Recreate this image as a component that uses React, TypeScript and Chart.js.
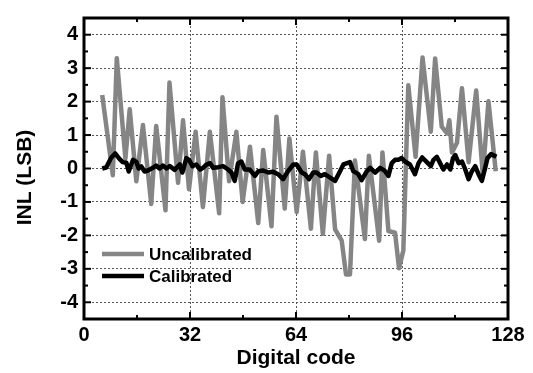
import React, { useEffect, useRef } from "react";
import { Chart, registerables } from "chart.js";

Chart.register(...registerables);

// ---- Data ----
const uncalCodes = [5.5, 8.7, 9.9, 12.5, 13.8, 15.8, 17.8, 20.3, 21.8, 24.6, 25.8, 28.4, 29.9, 31.7, 33.7, 35.9, 38.0, 40.8, 41.8, 43.8, 46.0, 47.9, 50.1, 52.6, 54.1, 56.6, 58.1, 60.6, 62.0, 64.2, 66.1, 68.5, 70.0, 72.1, 74.0, 75.8, 77.8, 79.1, 80.3, 81.8, 84.8, 86.0, 89.1, 90.1, 91.9, 93.9, 95.1, 96.4, 97.9, 100.1, 102.2, 104.7, 106.0, 108.0, 109.6, 110.3, 111.1, 112.6, 114.1, 116.1, 118.4, 120.4, 122.1, 124.3];
const uncalValues = [2.2, -0.2, 3.3, 0.3, 1.77, -0.38, 1.3, -1.06, 1.27, -1.25, 2.57, -0.43, 1.44, -0.62, 1.1, -1.15, 1.1, -1.34, 2.13, -0.38, 1.1, -1.0, 0.65, -1.63, 0.55, -1.73, 1.55, -1.2, 0.9, -1.3, 0.5, -1.8, 0.48, -1.95, 0.38, -1.82, -2.16, -3.17, -3.17, 0.24, -2.11, 0.38, -2.16, 0.48, -1.87, -1.92, -2.98, -2.45, 2.49, 0.35, 3.32, 1.1, 3.29, 1.25, 1.05, 1.44, 0.48, 0.77, 2.4, 0.19, 2.33, -0.19, 2.01, -0.08];

const calCodes = [5.5, 6.7, 8.2, 9.4, 10.7, 11.7, 12.8, 13.5, 14.8, 15.8, 16.5, 17.3, 18.3, 19.3, 20.8, 21.8, 22.8, 23.8, 24.9, 25.9, 27.4, 28.9, 29.7, 30.9, 31.7, 32.7, 33.9, 35.1, 35.9, 37.0, 38.0, 39.0, 40.5, 42.0, 43.5, 44.5, 45.5, 46.5, 47.5, 48.5, 50.0, 51.6, 52.6, 54.1, 55.6, 57.1, 58.6, 60.1, 61.6, 63.2, 64.2, 65.7, 66.7, 67.9, 69.2, 70.2, 71.5, 72.7, 74.3, 75.8, 77.3, 78.3, 80.3, 81.3, 82.8, 83.8, 85.4, 86.4, 87.9, 89.4, 90.9, 91.9, 92.9, 93.9, 94.9, 95.9, 96.9, 98.4, 99.9, 101.0, 102.1, 103.5, 104.7, 105.5, 106.5, 107.5, 108.5, 109.6, 110.6, 111.4, 112.1, 113.1, 114.1, 115.1, 116.1, 117.1, 118.1, 119.1, 120.1, 121.1, 121.8, 122.9, 124.5];
const calValues = [0, 0.03, 0.32, 0.45, 0.29, 0.19, 0.17, -0.09, 0.26, 0.2, 0, 0.06, -0.09, -0.06, 0.02, 0.09, 0, 0.09, 0, 0.07, -0.04, 0.12, -0.12, 0.31, 0.26, 0.07, 0.12, -0.03, 0.02, 0.12, 0.16, 0.02, 0.04, 0.07, -0.03, -0.12, -0.37, 0.16, 0.21, -0.03, -0.03, -0.22, -0.08, -0.06, -0.12, -0.1, -0.17, -0.32, -0.08, 0.12, 0.12, -0.12, -0.17, -0.32, -0.12, -0.12, -0.22, -0.17, -0.27, -0.37, -0.08, 0.12, 0.19, -0.08, -0.17, -0.35, -0.08, 0.02, -0.12, 0.02, -0.08, -0.22, 0.16, 0.26, 0.26, 0.31, 0.21, 0.12, -0.17, 0.16, 0.33, 0.19, 0.07, 0.26, 0.35, 0.16, -0.03, 0.12, -0.03, 0.31, 0.4, 0.16, 0.21, -0.03, -0.32, -0.08, 0.07, -0.17, -0.37, 0.02, 0.31, 0.43, 0.35];

const seriesLabels = ["Uncalibrated", "Calibrated"];
const xTickValues = [0, 32, 64, 96, 128];
const xMinorStep = 16;
const yTickValues = [-4, -3, -2, -1, 0, 1, 2, 3, 4];
const yMinorStep = 0.5;
const xRange = [0, 128];
const yRange = [-4.5, 4.5];
const xTitle = "Digital code";
const yTitle = "INL (LSB)";

const FONT = '"Liberation Sans", Arial, Helvetica, sans-serif';

const decorPlugin = {
  id: "decor",
  afterDatasetsDraw(chart: any) {
    const { ctx, chartArea: a, scales } = chart;
    const xs = scales.x;
    const ys = scales.y;
    ctx.save();
    ctx.strokeStyle = "#000";
    ctx.lineCap = "butt";
    ctx.lineWidth = 2;
    const seg = (x1: number, y1: number, x2: number, y2: number) => {
      ctx.beginPath();
      ctx.moveTo(x1, y1);
      ctx.lineTo(x2, y2);
      ctx.stroke();
    };
    for (let v = xRange[0]; v <= xRange[1] + 1e-9; v += xMinorStep) {
      const px = xs.getPixelForValue(v);
      const major = xTickValues.includes(v);
      const len = major ? 7 : 4;
      seg(px, a.bottom, px, a.bottom - len);
      seg(px, a.top, px, a.top + len);
    }
    for (let v = yRange[0]; v <= yRange[1] + 1e-9; v += yMinorStep) {
      const py = ys.getPixelForValue(v);
      const major = yTickValues.includes(v);
      const len = major ? 7 : 4;
      seg(a.left, py, a.left + len, py);
      seg(a.right, py, a.right - len, py);
    }
    ctx.lineWidth = 3;
    ctx.strokeRect(a.left, a.top, a.right - a.left, a.bottom - a.top);

    // legend (inside plot, lower left, no box)
    const ds = chart.data.datasets;
    const rowsY = [a.bottom - 65, a.bottom - 43];
    ctx.font = `bold 17px ${FONT}`;
    ctx.textBaseline = "middle";
    ctx.textAlign = "left";
    [0, 1].forEach((i, r) => {
      const d = ds[i];
      ctx.strokeStyle = d.borderColor;
      ctx.lineWidth = 4.5;
      seg(a.left + 18, rowsY[r], a.left + 60, rowsY[r]);
      ctx.fillStyle = "#000";
      ctx.fillText(d.label, a.left + 65, rowsY[r] + 1);
    });

    // y-axis title
    ctx.translate(25, (a.top + a.bottom) / 2 + 9);
    ctx.rotate(-Math.PI / 2);
    ctx.font = `bold 21px ${FONT}`;
    ctx.textAlign = "center";
    ctx.textBaseline = "middle";
    ctx.fillStyle = "#000";
    ctx.fillText(yTitle, 0, 0);
    ctx.restore();
  },
};

export default function App() {
  const ref = useRef<HTMLCanvasElement | null>(null);
  useEffect(() => {
    if (!ref.current) return;
    const chart = new Chart(ref.current, {
      type: "line",
      data: {
        datasets: [
          {
            label: seriesLabels[0],
            data: uncalCodes.map((c, i) => ({ x: c, y: uncalValues[i] })),
            borderColor: "#858585",
            borderWidth: 4.5,
            pointRadius: 0,
            tension: 0,
            borderJoinStyle: "round",
            order: 1,
          },
          {
            label: seriesLabels[1],
            data: calCodes.map((c, i) => ({ x: c, y: calValues[i] })),
            borderColor: "#000000",
            borderWidth: 4.5,
            pointRadius: 0,
            tension: 0,
            borderJoinStyle: "round",
            order: 0,
          },
        ],
      },
      options: {
        responsive: false,
        animation: false,
        layout: { padding: { top: 8, right: 25, left: 0, bottom: 0 } },
        plugins: { legend: { display: false }, tooltip: { enabled: false } },
        scales: {
          x: {
            type: "linear",
            min: xRange[0],
            max: xRange[1],
            afterBuildTicks: (s: any) => {
              s.ticks = xTickValues.map((v) => ({ value: v }));
            },
            afterFit: (s: any) => {
              s.height = 54;
            },
            grid: { color: "#555", lineWidth: 1, drawTicks: false },
            border: { display: false, dash: [2, 2] },
            ticks: {
              padding: 4,
              color: "#000",
              font: { family: FONT, size: 20, weight: "bold" },
              maxRotation: 0,
              autoSkip: false,
            },
            title: {
              display: true,
              text: xTitle,
              color: "#000",
              font: { family: FONT, size: 21, weight: "bold" },
              padding: { top: 0, bottom: 2 },
            },
          },
          y: {
            type: "linear",
            min: yRange[0],
            max: yRange[1],
            afterBuildTicks: (s: any) => {
              s.ticks = yTickValues.map((v) => ({ value: v }));
            },
            afterFit: (s: any) => {
              s.width = 84;
            },
            grid: { color: "#555", lineWidth: 1, drawTicks: false },
            border: { display: false, dash: [2, 2] },
            ticks: {
              padding: 6,
              color: "#000",
              font: { family: FONT, size: 20, weight: "bold" },
              autoSkip: false,
            },
            title: { display: false },
          },
        },
      },
      plugins: [decorPlugin],
    } as any);
    return () => chart.destroy();
  }, []);
  return (
    <div style={{ position: "fixed", left: 0, top: 0, width: 533, height: 373, background: "#fff" }}>
      <canvas ref={ref} width={533} height={373} />
    </div>
  );
}
